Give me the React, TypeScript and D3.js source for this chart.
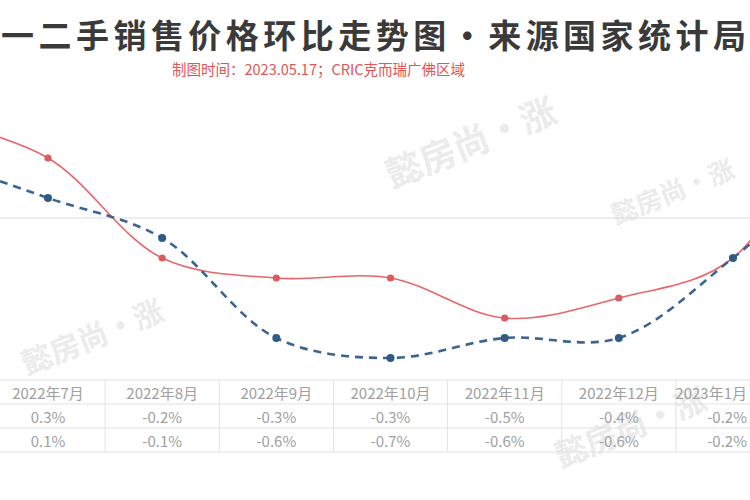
import React from "react";
import * as d3 from "d3";

const newHomeMoM = [0.5, 0.3, -0.2, -0.3, -0.3, -0.5, -0.4, -0.2, 0.7];
const resaleMoM = [0.3, 0.1, -0.1, -0.6, -0.7, -0.6, -0.6, -0.2, 0.3];
const tableMonths = ["2022年7月", "2022年8月", "2022年9月", "2022年10月", "2022年11月", "2022年12月", "2023年1月"];
const tableRow1 = ["0.3%", "-0.2%", "-0.3%", "-0.3%", "-0.5%", "-0.4%", "-0.2%"];
const tableRow2 = ["0.1%", "-0.1%", "-0.6%", "-0.7%", "-0.6%", "-0.6%", "-0.2%"];
const titleText = "一二手销售价格环比走势图·来源国家统计局";
const subtitleText = "制图时间：2023.05.17；CRIC克而瑞广佛区域";
const watermarkText = "懿房尚·涨";

const W = 750;
const H = 500;
const FONT = "'Noto Sans CJK SC', 'Noto Sans', sans-serif";

export default function App() {
  const x = d3.scaleLinear().domain([1, 7]).range([48, 733]);
  const y = d3.scaleLinear().domain([0.3, -0.7]).range([158, 358]);
  const step = x(2) - x(1);

  const line = d3
    .line<number>()
    .x((_, i) => x(i))
    .y((d) => y(d))
    .curve(d3.curveCatmullRom.alpha(0.5));

  const visibleIdx = d3.range(1, 8);
  const tableTop = 380;
  const rowH = 24;
  const rows = [tableMonths, tableRow1, tableRow2];

  const watermarks = [
    { cx: 470, cy: 140, size: 36 },
    { cx: 92, cy: 335, size: 30 },
    { cx: 672, cy: 190, size: 26 },
    { cx: 630, cy: 425, size: 32 },
  ];

  return (
    <svg
      width={W}
      height={H}
      viewBox={`0 0 ${W} ${H}`}
      style={{ position: "absolute", left: 0, top: 0, background: "#fff" }}
      fontFamily={FONT}
    >
      <defs>
        <clipPath id="plotClip">
          <rect x={0} y={0} width={W} height={H} />
        </clipPath>
      </defs>
      <rect x={0} y={0} width={W} height={H} fill="#fff" />

      {/* watermarks */}
      {watermarks.map((w, i) => (
        <text
          key={"wm" + i}
          x={w.cx}
          y={w.cy}
          fontSize={w.size}
          fill="#ebebeb"
          fontWeight="bold"
          textAnchor="middle"
          dominantBaseline="central"
          transform={`rotate(-22 ${w.cx} ${w.cy})`}
        >
          {watermarkText}
        </text>
      ))}

      {/* title */}
      <text
        x={1}
        y={48}
        fontSize={33}
        fontWeight="bold"
        fill="#3a3a3a"
        textLength={745}
        lengthAdjust="spacing"
      >
        {titleText}
      </text>
      <text x={172} y={75} fontSize={14.5} fill="#e05555">
        {subtitleText}
      </text>

      {/* zero line */}
      <line x1={0} x2={W} y1={y(0)} y2={y(0)} stroke="#dcdcdc" strokeWidth={1.2} />

      {/* table */}
      {d3.range(4).map((r) => (
        <line
          key={"hr" + r}
          x1={0}
          x2={W}
          y1={tableTop + r * rowH}
          y2={tableTop + r * rowH}
          stroke="#e2e2e2"
          strokeWidth={1}
        />
      ))}
      {visibleIdx.map((i) => (
        <line
          key={"vr" + i}
          x1={x(i) + step / 2}
          x2={x(i) + step / 2}
          y1={tableTop}
          y2={tableTop + 3 * rowH}
          stroke="#e2e2e2"
          strokeWidth={1}
        />
      ))}
      {rows.map((row, r) =>
        row.map((t, c) => {
          const last = c === row.length - 1;
          return (
            <text
              key={`t${r}-${c}`}
              x={last ? W - 3 : x(c + 1)}
              y={tableTop + r * rowH + rowH / 2}
              fontSize={15}
              fill="#a0a0a0"
              textAnchor={last ? "end" : "middle"}
              dominantBaseline="central"
            >
              {t}
            </text>
          );
        })
      )}

      {/* lines */}
      <g clipPath="url(#plotClip)">
        <path d={line(newHomeMoM) || ""} fill="none" stroke="#e8666a" strokeWidth={1.6} />
        <path
          d={line(resaleMoM) || ""}
          fill="none"
          stroke="#3b6590"
          strokeWidth={2.6}
          strokeDasharray="8,6"
        />
        {visibleIdx.map((i) => (
          <circle key={"r" + i} cx={x(i)} cy={y(newHomeMoM[i])} r={3.6} fill="#dd5b5e" />
        ))}
        {visibleIdx.map((i) => (
          <circle key={"b" + i} cx={x(i)} cy={y(resaleMoM[i])} r={4} fill="#2f5b86" />
        ))}
      </g>
    </svg>
  );
}
